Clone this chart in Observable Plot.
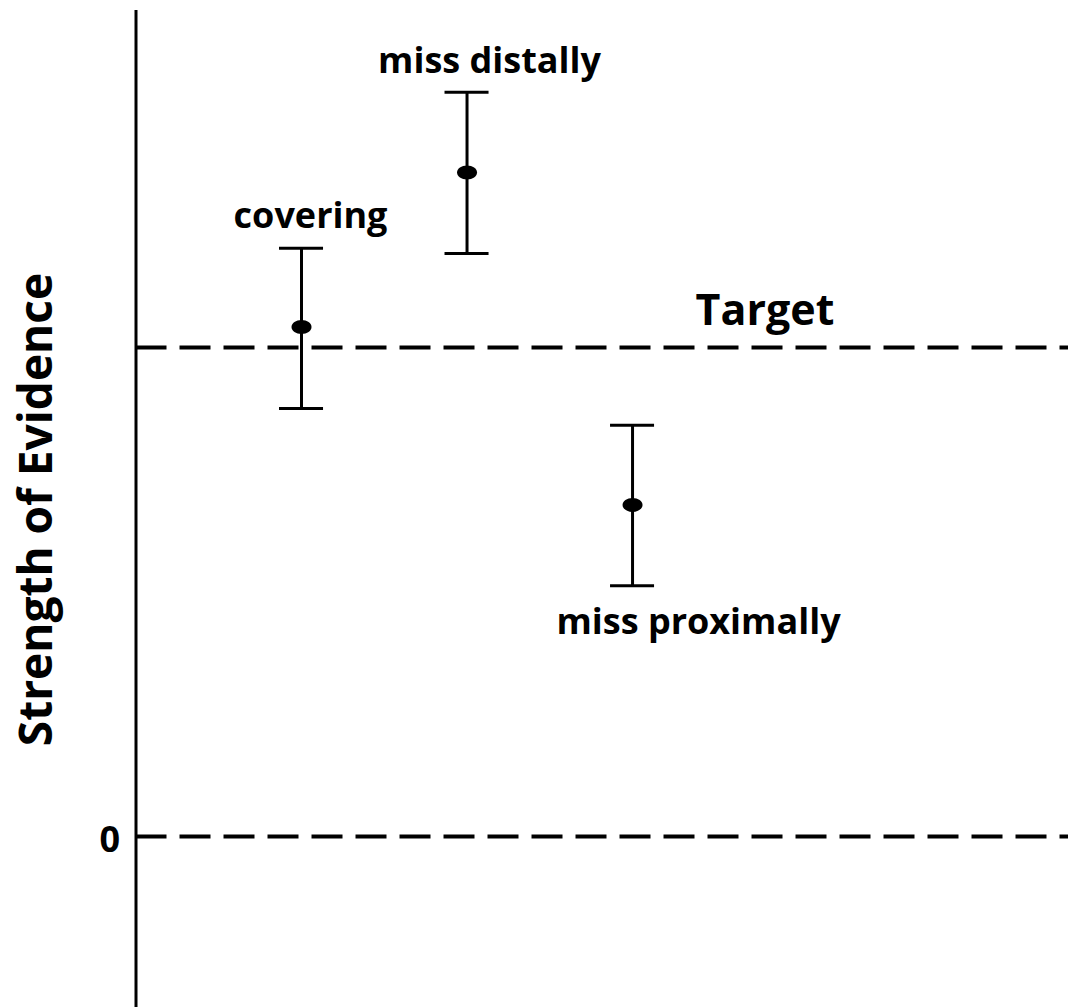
<!DOCTYPE html>
<html>
<head>
<meta charset="utf-8">
<script src="https://cdn.jsdelivr.net/npm/d3@7"></script>
<script src="https://cdn.jsdelivr.net/npm/@observablehq/plot@0.6"></script>
<style>
  html, body { margin: 0; padding: 0; background: #fff; }
  #chart svg { display: block; }
</style>
</head>
<body>
<div id="chart"></div>
<script>
// ---- data ----
const conditions = ["covering", "miss distally", "miss proximally"];
const conditionX = [1, 2, 3];
const means = [10.42, 13.58, 6.78];
const lows = [8.75, 11.92, 5.13];
const highs = [12.03, 15.22, 8.41];
const referenceValues = [10, 0];           // Target, zero
const referenceNames = ["Target", ""];
const tickValues = [0];
const tickLabels = ["0"];
const yLabel = "Strength of Evidence";

// ---- build table ----
const rows = conditions.map((c, i) => ({
  name: c, x: conditionX[i], mean: means[i], lo: lows[i], hi: highs[i]
}));

const FONT = "'Open Sans', sans-serif";
const capHalf = 0.133;
const yTop = 16.89;
const yMin = -3.497, yMax = 17.096;
const xMin = -0.8187, xMax = 5.634;

const ellipse = {
  draw(ctx) {
    const rx = 10, ry = 7, k = 0.5523;
    ctx.moveTo(rx, 0);
    ctx.bezierCurveTo(rx, ry * k, rx * k, ry, 0, ry);
    ctx.bezierCurveTo(-rx * k, ry, -rx, ry * k, -rx, 0);
    ctx.bezierCurveTo(-rx, -ry * k, -rx * k, -ry, 0, -ry);
    ctx.bezierCurveTo(rx * k, -ry, rx, -ry * k, rx, 0);
    ctx.closePath();
  }
};

// label placement (styles)
const labelStyle = [
  {anchor: "hi", dx: 9, dy: -32},
  {anchor: "hi", dx: 22.5, dy: -31},
  {anchor: "lo", dx: 66, dy: 36.5}
];

const chart = Plot.plot({
  width: 1068,
  height: 1007,
  marginLeft: 0,
  marginRight: 0,
  marginTop: 0,
  marginBottom: 0,
  style: {fontFamily: FONT, background: "#fff", color: "#000"},
  x: {domain: [xMin, xMax], axis: null},
  y: {domain: [yMin, yMax], axis: null},
  marks: [
    // reference dashed lines
    Plot.ruleY(referenceValues, {
      y: d => d, x1: 0, x2: xMax,
      stroke: "#000", strokeWidth: 4, strokeDasharray: "31,13"
    }),
    // vertical axis line
    Plot.ruleX([0], {x: d => d, y1: yTop, y2: yMin, stroke: "#000", strokeWidth: 3}),
    // tick label "0"
    Plot.text(tickValues, {
      x: 0, y: d => d, text: (d, i) => tickLabels[i], textAnchor: "end",
      dx: -16, dy: 4, fontSize: 36, fontWeight: "bold", fill: "#000"
    }),
    // axis title
    Plot.text([yLabel], {
      frameAnchor: "left", text: d => d, rotate: -90, textAnchor: "middle",
      dx: 37, dy: 5.5, fontSize: 46, fontWeight: "bold", fill: "#000"
    }),
    // Target label
    Plot.text([referenceNames[0]], {
      x: 3.8, y: referenceValues[0], text: d => d, dy: -36, dx: 0,
      fontSize: 43, fontWeight: "bold", fill: "#000"
    }),
    // error bars
    Plot.ruleX(rows, {x: "x", y1: "lo", y2: "hi", stroke: "#000", strokeWidth: 3}),
    Plot.ruleY(rows, {y: "hi", x1: d => d.x - capHalf, x2: d => d.x + capHalf, stroke: "#000", strokeWidth: 3}),
    Plot.ruleY(rows, {y: "lo", x1: d => d.x - capHalf, x2: d => d.x + capHalf, stroke: "#000", strokeWidth: 3}),
    // means
    Plot.dot(rows, {x: "x", y: "mean", symbol: ellipse, fill: "#000", stroke: "none", r: 8}),
    // condition labels
    ...rows.map((r, i) => Plot.text([r], {
      x: "x", y: labelStyle[i].anchor, text: "name",
      dx: labelStyle[i].dx, dy: labelStyle[i].dy,
      fontSize: 36, fontWeight: "bold", fill: "#000"
    }))
  ]
});

document.getElementById("chart").appendChild(chart);
</script>
</body>
</html>
